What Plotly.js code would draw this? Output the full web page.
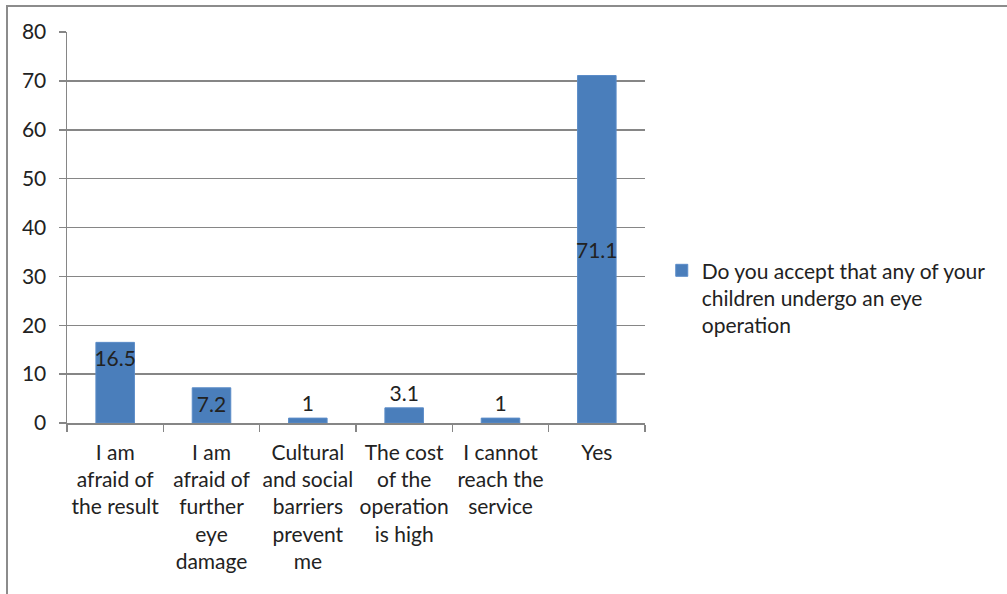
<!DOCTYPE html>
<html>
<head>
<meta charset="utf-8">
<script src="https://cdn.plot.ly/plotly-3.0.1.min.js"></script>
<style>
  html, body { margin: 0; padding: 0; background: #fff; overflow: hidden; }
  #frame { position: absolute; left: 6px; top: 5px; width: 1100px; height: 700px; border: 2px solid #8c8c8c; }
  #chart { position: absolute; left: 0; top: 0; width: 1007px; height: 594px; }
</style>
</head>
<body>
<div id="frame"></div>
<div id="chart"></div>
<script>
const categories = [
  "I am<br>afraid of<br>the result",
  "I am<br>afraid of<br>further<br>eye<br>damage",
  "Cultural<br>and social<br>barriers<br>prevent<br>me",
  "The cost<br>of the<br>operation<br>is high",
  "I cannot<br>reach the<br>service",
  "Yes"
];
const values = [16.5, 7.2, 1, 3.1, 1, 71.1];
const labelPositions = ["inside", "inside", "outside", "outside", "outside", "none"];
const seriesName = "Do you accept that any of your<br>children undergo an eye<br>operation";
const yTicks = [0, 10, 20, 30, 40, 50, 60, 70, 80];

const FONT = "Lato, 'Open Sans', sans-serif";
const FS = 21;
const trace = {
  type: "bar",
  x: categories,
  y: values,
  name: seriesName,
  marker: { color: "#4a7ebb", line: { color: "#5b8cc8", width: 1 } },
  text: values.map(String),
  textposition: labelPositions,
  insidetextanchor: "end",
  textangle: 0,
  textfont: { family: FONT, size: FS, color: "#222" },
  insidetextfont: { family: FONT, size: FS, color: "#222" },
  outsidetextfont: { family: FONT, size: FS, color: "#222" },
  constraintext: "none",
  cliponaxis: false,
  showlegend: true,
  hoverinfo: "x+y"
};

const maxIdx = values.indexOf(Math.max(...values));
const layout = {
  width: 1007, height: 594,
  margin: { l: 67, r: 362, t: 32, b: 171 },
  paper_bgcolor: "rgba(0,0,0,0)",
  plot_bgcolor: "rgba(0,0,0,0)",
  font: { family: FONT, size: FS, color: "#222" },
  bargap: 0.6,
  showlegend: true,
  legend: {
    x: 1.029, y: 0.442, xanchor: "left", yanchor: "top", valign: "top",
    font: { family: FONT, size: FS, color: "#222" },
    itemwidth: 30, bgcolor: "rgba(0,0,0,0)"
  },
  xaxis: {
    type: "category",
    showline: true, linecolor: "#868686", linewidth: 1.5,
    ticks: "outside", ticklen: 7, tickcolor: "#868686", tickwidth: 1.5,
    tickson: "boundaries",
    ticklabelstandoff: 10,
    showgrid: false, tickangle: 0,
    tickfont: { family: FONT, size: FS, color: "#222" }
  },
  yaxis: {
    range: [0, 80], tickvals: yTicks,
    showgrid: true, gridcolor: "#868686", gridwidth: 1.5,
    showline: true, linecolor: "#868686", linewidth: 1.5,
    ticks: "outside", ticklen: 7, tickcolor: "#868686", tickwidth: 1.5,
    zeroline: false,
    ticklabelstandoff: 8,
    tickfont: { family: FONT, size: FS, color: "#222" }
  },
  annotations: [{
    x: categories[maxIdx], y: values[maxIdx] / 2, xref: "x", yref: "y",
    text: String(values[maxIdx]), showarrow: false,
    font: { family: FONT, size: FS, color: "#222" }
  }]
};

Plotly.newPlot("chart", [trace], layout, { displayModeBar: false, staticPlot: true });
</script>
</body>
</html>
